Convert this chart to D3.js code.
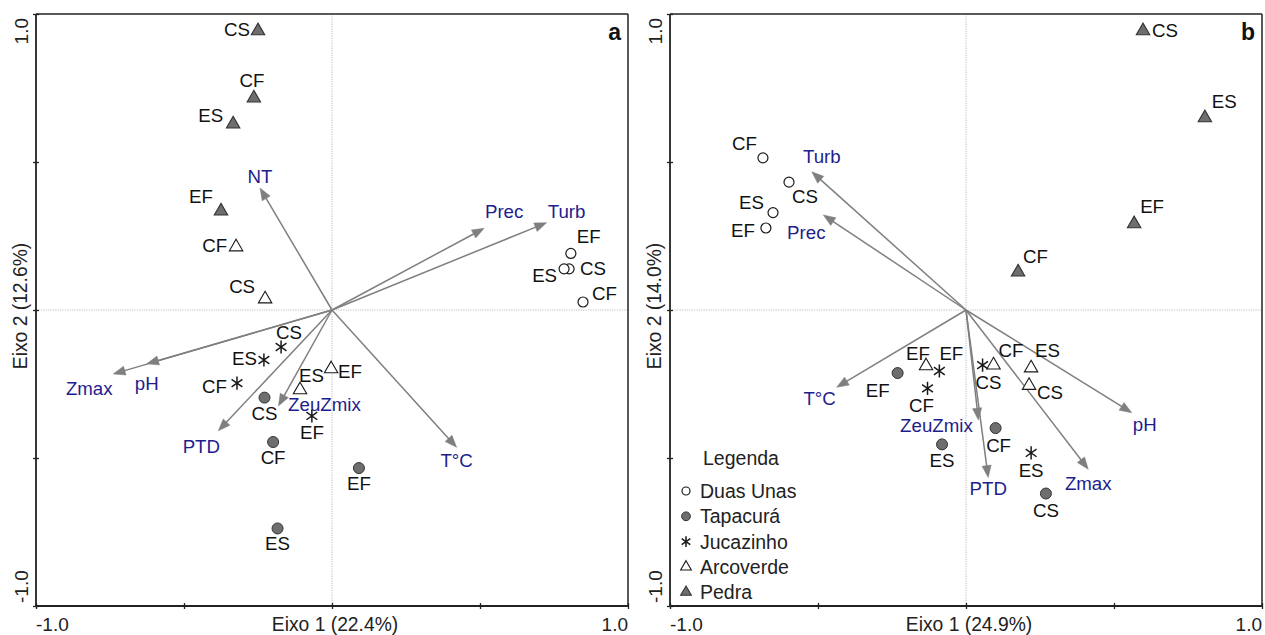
<!DOCTYPE html>
<html><head><meta charset="utf-8">
<script src="https://cdn.jsdelivr.net/npm/d3@7"></script>
<style>
body{margin:0;background:#fff}
svg{display:block}
text{font-family:"Liberation Sans",Arial,Helvetica,sans-serif}
</style>
</head><body>
<svg id="chart" width="1265" height="635"></svg>
<script>
// ---------------- DATA ----------------
const reservoirs = ["Duas Unas", "Tapacurá", "Jucazinho", "Arcoverde", "Pedra"];
const legendTitle = "Legenda";
const tickValues = [-1, -0.5, 0, 0.5, 1];
const tickLabels = ["-1.0", "1.0"];
const panelLetters = ["a", "b"];
const axisTitlesA = ["Eixo 1 (22.4%)", "Eixo 2 (12.6%)"];
const axisTitlesB = ["Eixo 1 (24.9%)", "Eixo 2 (14.0%)"];

// [reservoir, sample, axis1, axis2]
const sitesA = [
  ["Pedra", "CS", -0.250, 0.943],
  ["Pedra", "CF", -0.264, 0.716],
  ["Pedra", "ES", -0.334, 0.628],
  ["Pedra", "EF", -0.375, 0.334],
  ["Arcoverde", "CF", -0.324, 0.213],
  ["Arcoverde", "CS", -0.226, 0.037],
  ["Arcoverde", "ES", -0.108, -0.270],
  ["Arcoverde", "EF", -0.003, -0.199],
  ["Jucazinho", "CS", -0.172, -0.125],
  ["Jucazinho", "ES", -0.230, -0.169],
  ["Jucazinho", "CF", -0.321, -0.247],
  ["Jucazinho", "EF", -0.068, -0.358],
  ["Tapacurá", "CS", -0.228, -0.296],
  ["Tapacurá", "CF", -0.199, -0.446],
  ["Tapacurá", "ES", -0.184, -0.738],
  ["Tapacurá", "EF", 0.091, -0.534],
  ["Duas Unas", "EF", 0.807, 0.191],
  ["Duas Unas", "CS", 0.801, 0.139],
  ["Duas Unas", "ES", 0.784, 0.139],
  ["Duas Unas", "CF", 0.848, 0.027]
];
// [variable, axis1, axis2]
const envA = [
  ["NT", -0.243, 0.412],
  ["Prec", 0.514, 0.276],
  ["Turb", 0.725, 0.295],
  ["Zmax", -0.739, -0.216],
  ["pH", -0.626, -0.182],
  ["PTD", -0.384, -0.408],
  ["ZeuZmix", -0.181, -0.324],
  ["T°C", 0.421, -0.464]
];

const sitesB = [
  ["Duas Unas", "CF", -0.686, 0.514],
  ["Duas Unas", "CS", -0.598, 0.432],
  ["Duas Unas", "ES", -0.652, 0.329],
  ["Duas Unas", "EF", -0.676, 0.277],
  ["Pedra", "CS", 0.598, 0.943],
  ["Pedra", "ES", 0.807, 0.649],
  ["Pedra", "EF", 0.568, 0.291],
  ["Pedra", "CF", 0.176, 0.128],
  ["Arcoverde", "EF", -0.135, -0.189],
  ["Arcoverde", "CF", 0.093, -0.186],
  ["Arcoverde", "ES", 0.220, -0.196],
  ["Arcoverde", "CS", 0.213, -0.255],
  ["Jucazinho", "EF", -0.090, -0.206],
  ["Jucazinho", "CF", -0.130, -0.265],
  ["Jucazinho", "CS", 0.056, -0.186],
  ["Jucazinho", "ES", 0.220, -0.483],
  ["Tapacurá", "EF", -0.231, -0.213],
  ["Tapacurá", "ES", -0.081, -0.454],
  ["Tapacurá", "CF", 0.100, -0.399],
  ["Tapacurá", "CS", 0.270, -0.620]
];
const envB = [
  ["Turb", -0.521, 0.467],
  ["Prec", -0.482, 0.321],
  ["T°C", -0.437, -0.261],
  ["ZeuZmix", 0.042, -0.372],
  ["PTD", 0.075, -0.566],
  ["Zmax", 0.413, -0.538],
  ["pH", 0.560, -0.347]
];

// ---------------- LAYOUT (label offsets in px: dx, dy to baseline, anchor) ----------------
const siteLabelOffsetA = {
  "Pedra CS": [-8, 5, "end"], "Pedra CF": [-2, -11, "middle"], "Pedra ES": [-10, -2, "end"], "Pedra EF": [-8, -8, "end"],
  "Arcoverde CF": [-9, 5, "end"], "Arcoverde CS": [-10, -6, "end"], "Arcoverde ES": [-1, -8, "start"], "Arcoverde EF": [7, 9, "start"],
  "Jucazinho CS": [8, -8, "middle"], "Jucazinho ES": [-7, 5, "end"], "Jucazinho CF": [-10, 10, "end"], "Jucazinho EF": [0, 23, "middle"],
  "Tapacurá CS": [0, 22, "middle"], "Tapacurá CF": [0, 22, "middle"], "Tapacurá ES": [0, 22, "middle"], "Tapacurá EF": [0, 22, "middle"],
  "Duas Unas EF": [6, -10, "start"], "Duas Unas CS": [11, 6, "start"], "Duas Unas ES": [-7, 13, "end"], "Duas Unas CF": [9, -2, "start"]
};
const envLabelOffsetA = {
  "NT": [0, -5, "middle"], "Prec": [20, -10, "middle"], "Turb": [20, -5, "middle"], "Zmax": [-24, 21, "middle"],
  "pH": [0, 26, "middle"], "PTD": [-17, 22, "middle"], "ZeuZmix": [46, 5, "middle"], "T°C": [0, 20, "middle"]
};
const siteLabelOffsetB = {
  "Duas Unas CF": [-6, -8, "end"], "Duas Unas CS": [3, 21, "start"], "Duas Unas ES": [-9, -4, "end"], "Duas Unas EF": [-11, 9, "end"],
  "Pedra CS": [9, 6, "start"], "Pedra ES": [7, -10, "start"], "Pedra EF": [6, -11, "start"], "Pedra CF": [5, -9, "start"],
  "Arcoverde EF": [-8, -6, "middle"], "Arcoverde CF": [5, -8, "start"], "Arcoverde ES": [4, -11, "start"], "Arcoverde CS": [8, 14, "start"],
  "Jucazinho EF": [12, -11, "middle"], "Jucazinho CF": [-6, 24, "middle"], "Jucazinho CS": [6, 24, "middle"], "Jucazinho ES": [0, 24, "middle"],
  "Tapacurá EF": [-8, 24, "end"], "Tapacurá ES": [0, 23, "middle"], "Tapacurá CF": [3, 24, "middle"], "Tapacurá CS": [0, 23, "middle"]
};
const envLabelOffsetB = {
  "Turb": [10, -9, "middle"], "Prec": [-17, 24, "middle"], "T°C": [-17, 18, "middle"], "ZeuZmix": [-42, 12, "middle"],
  "PTD": [0, 17, "middle"], "Zmax": [0, 21, "middle"], "pH": [13, 18, "middle"]
};

// ---------------- STYLES ----------------
const varColor = "#221d8c";
const arrowColor = "#7f7f7f";
const markerFill = "#6e6e6e";
const inkColor = "#1a1a1a";
const labelSize = 18.7;

const svg = d3.select("#chart");
svg.append("rect").attr("width", 1265).attr("height", 635).attr("fill", "#fff");

function drawMarker(g, res, cx, cy, scale) {
  const k = scale || 1;
  if (res === "Duas Unas") {
    g.append("circle").attr("cx", cx).attr("cy", cy).attr("r", 5 * k)
      .attr("fill", "#fff").attr("stroke", inkColor).attr("stroke-width", 1.2);
  } else if (res === "Tapacurá") {
    g.append("circle").attr("cx", cx).attr("cy", cy).attr("r", 5.5 * k)
      .attr("fill", markerFill).attr("stroke", "#333").attr("stroke-width", 1);
  } else if (res === "Jucazinho") {
    const r = 6.6 * k;
    const p = d3.path();
    [90, 35, -35].forEach(a => {
      const t = a * Math.PI / 180;
      p.moveTo(cx - r * Math.cos(t), cy - r * Math.sin(t));
      p.lineTo(cx + r * Math.cos(t), cy + r * Math.sin(t));
    });
    g.append("path").attr("d", p.toString()).attr("stroke", inkColor).attr("stroke-width", 1.5).attr("fill", "none");
  } else {
    const sym = d3.symbol().type(d3.symbolTriangle).size(78 * k * k);
    g.append("path").attr("d", sym()).attr("transform", `translate(${cx},${cy})`)
      .attr("fill", res === "Pedra" ? markerFill : "#fff")
      .attr("stroke", res === "Pedra" ? "#333" : inkColor).attr("stroke-width", 1.1);
  }
}

function drawPanel(cfg) {
  const x = d3.scaleLinear().domain([-1, 1]).range([cfg.left, cfg.right]);
  const y = d3.scaleLinear().domain([-1, 1]).range([cfg.bottom, cfg.top]);
  const g = svg.append("g");

  // dotted zero lines
  g.append("line").attr("x1", x(0)).attr("x2", x(0)).attr("y1", y(1)).attr("y2", y(-1))
    .attr("stroke", "#b5b5b5").attr("stroke-width", 0.9).attr("stroke-dasharray", "1.2,1.2");
  g.append("line").attr("x1", x(-1)).attr("x2", x(1)).attr("y1", y(0)).attr("y2", y(0))
    .attr("stroke", "#b5b5b5").attr("stroke-width", 0.9).attr("stroke-dasharray", "1.2,1.2");

  // frame top / right
  g.append("line").attr("x1", x(-1)).attr("x2", x(1)).attr("y1", y(1)).attr("y2", y(1))
    .attr("stroke", "#222").attr("stroke-width", 1.5);
  g.append("line").attr("x1", x(1)).attr("x2", x(1)).attr("y1", y(1)).attr("y2", y(-1))
    .attr("stroke", "#222").attr("stroke-width", 1.5);

  // axes
  const ax = g.append("g").attr("transform", `translate(0,${cfg.bottom})`)
    .call(d3.axisBottom(x).tickValues(tickValues).tickSize(3).tickFormat(""));
  const ay = g.append("g").attr("transform", `translate(${cfg.left},0)`)
    .call(d3.axisLeft(y).tickValues(tickValues).tickSize(3).tickFormat(""));
  [ax, ay].forEach(a => {
    a.select(".domain").attr("stroke", "#222").attr("stroke-width", 1.8);
    a.selectAll(".tick line").attr("stroke", "#222").attr("stroke-width", 1.3);
  });
  ax.selectAll(".tick line").attr("y1", -3).attr("y2", 3);
  ay.selectAll(".tick line").attr("x1", -3).attr("x2", 3);
  ax.select(".domain").attr("d", `M${x(-1)},0H${x(1)}`);
  ay.select(".domain").attr("d", `M0,${y(-1)}V${y(1)}`);

  // tick labels
  const fs = 19, fc = "#222";
  g.append("text").attr("x", x(-1)).attr("y", cfg.bottom + 25).attr("text-anchor", "start")
    .attr("font-size", fs).attr("fill", fc).text(tickLabels[0]);
  g.append("text").attr("x", x(1)).attr("y", cfg.bottom + 25).attr("text-anchor", "end")
    .attr("font-size", fs).attr("fill", fc).text(tickLabels[1]);
  g.append("text").attr("transform", `translate(${cfg.left - 8},${y(1) + 4}) rotate(-90)`)
    .attr("text-anchor", "end").attr("font-size", fs).attr("fill", fc).text(tickLabels[1]);
  g.append("text").attr("transform", `translate(${cfg.left - 8},${y(-1) - 3}) rotate(-90)`)
    .attr("text-anchor", "start").attr("font-size", fs).attr("fill", fc).text(tickLabels[0]);

  // axis titles
  g.append("text").attr("x", x(0) + 3).attr("y", cfg.bottom + 25).attr("text-anchor", "middle")
    .attr("font-size", 19.3).attr("fill", fc).text(cfg.titles[0]);
  g.append("text").attr("transform", `translate(${cfg.left - 9},${y(0) - 4}) rotate(-90)`)
    .attr("text-anchor", "middle").attr("font-size", 19.3).attr("fill", fc).text(cfg.titles[1]);

  // panel letter
  g.append("text").attr("x", x(1) - 7).attr("y", y(1) + 26).attr("text-anchor", "end")
    .attr("font-size", 23).attr("font-weight", "bold").attr("fill", "#111").text(cfg.letter);

  // arrows
  const ox = x(0), oy = y(0);
  cfg.env.forEach(([name, v1, v2]) => {
    const tx = x(v1), ty = y(v2);
    const dx = tx - ox, dy = ty - oy, L = Math.hypot(dx, dy);
    const ux = dx / L, uy = dy / L, hl = 12, hw = 4.6;
    const bx = tx - ux * hl, by = ty - uy * hl;
    g.append("line").attr("x1", ox).attr("y1", oy).attr("x2", bx + ux * 1).attr("y2", by + uy * 1)
      .attr("stroke", arrowColor).attr("stroke-width", 1.5);
    g.append("path").attr("d", `M${tx},${ty}L${bx - uy * hw},${by + ux * hw}L${bx + uy * hw},${by - ux * hw}Z`)
      .attr("fill", arrowColor).attr("stroke", arrowColor).attr("stroke-width", 0.5);
    const o = cfg.envOff[name];
    g.append("text").attr("x", tx + o[0]).attr("y", ty + o[1]).attr("text-anchor", o[2])
      .attr("font-size", labelSize).attr("fill", varColor).text(name);
  });

  // sites
  cfg.sites.forEach(([res, lab, v1, v2]) => {
    const cx = x(v1), cy = y(v2);
    drawMarker(g, res, cx, cy, 1);
    const o = cfg.siteOff[res + " " + lab];
    g.append("text").attr("x", cx + o[0]).attr("y", cy + o[1]).attr("text-anchor", o[2])
      .attr("font-size", labelSize).attr("fill", "#111").text(lab);
  });
  return { x, y, g };
}

drawPanel({ left: 36, right: 628, top: 14, bottom: 606, titles: axisTitlesA, letter: panelLetters[0],
  sites: sitesA, env: envA, siteOff: siteLabelOffsetA, envOff: envLabelOffsetA });
const pb = drawPanel({ left: 670, right: 1262, top: 14, bottom: 606, titles: axisTitlesB, letter: panelLetters[1],
  sites: sitesB, env: envB, siteOff: siteLabelOffsetB, envOff: envLabelOffsetB });

// legend
const lg = pb.g.append("g");
lg.append("text").attr("x", 703).attr("y", 465).attr("font-size", 19.5).attr("fill", "#222").text(legendTitle);
reservoirs.forEach((r, i) => {
  const cy = 491 + i * 25.3;
  drawMarker(lg, r, 686, cy, 0.8);
  lg.append("text").attr("x", 700).attr("y", cy + 7).attr("font-size", 19.5).attr("fill", "#222").text(r);
});
</script>
</body></html>
